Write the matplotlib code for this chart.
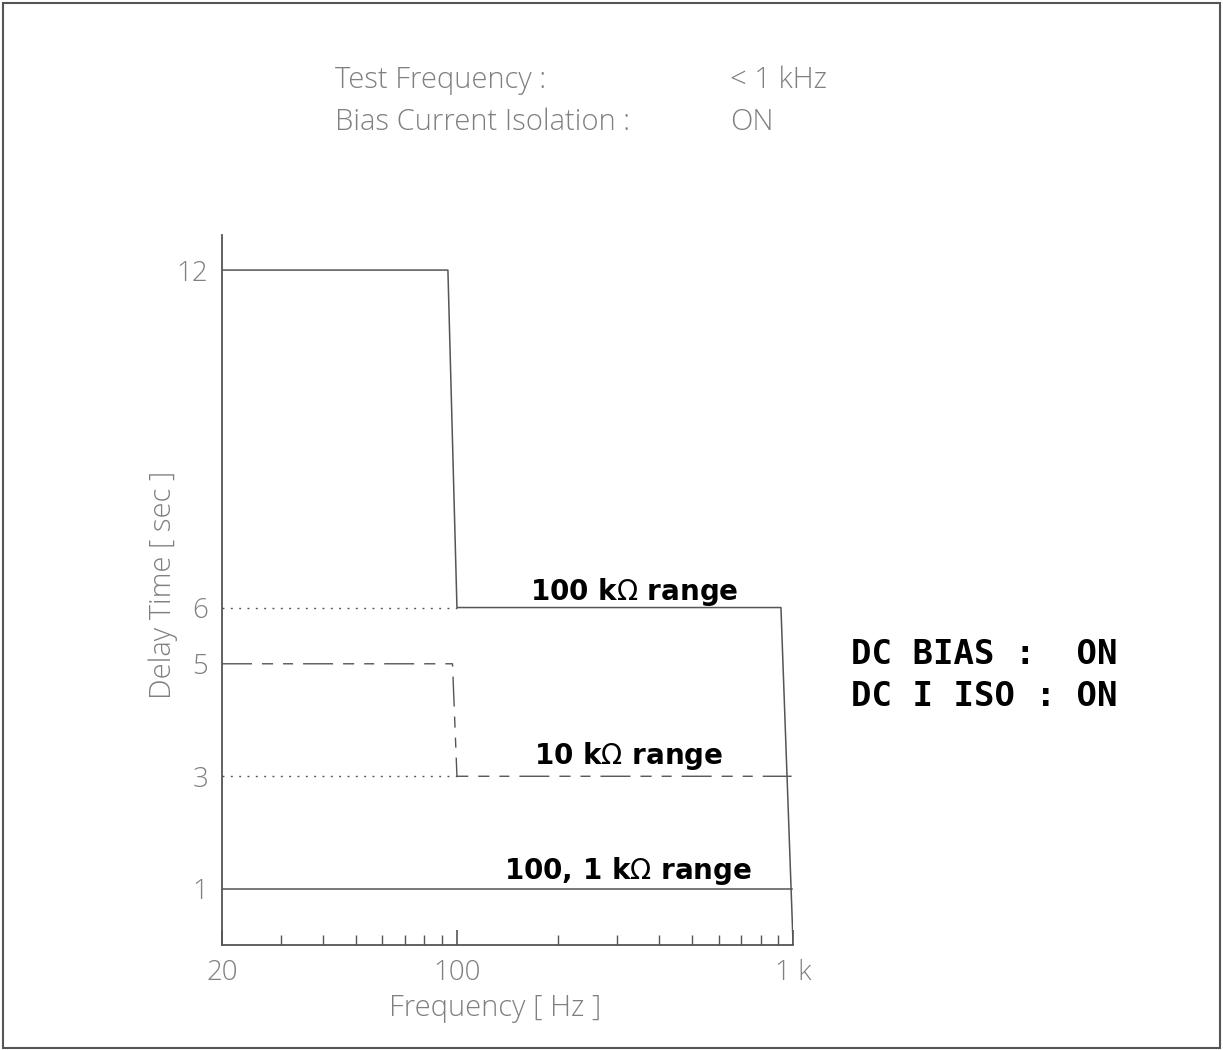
import matplotlib
matplotlib.use('Agg')
import numpy as np
from matplotlib import pyplot as plt
from matplotlib.patches import Rectangle
from matplotlib.ticker import FixedLocator, NullFormatter

# 100 kOhm range
freq_100k = [20, 94, 100, 920, 1000]
delay_100k = [12, 12, 6, 6, 0]
# 10 kOhm range
freq_10k = [20, 97, 100, 990]
delay_10k = [5, 5, 3, 3]
# 100, 1 kOhm range
freq_1k = [20, 990]
delay_1k = [1, 1]
# dotted guides
guide_freq = [20, 100]
guide_levels = [6, 3]

ytick_vals = [1, 3, 5, 6, 12]
xtick_vals = [20, 100, 1000]
xtick_labels = ['20', '100', '1 k']
minor_vals = [30, 40, 50, 60, 70, 80, 90, 200, 300, 400, 500, 600, 700, 800, 900]

line_col = '#555555'
thin_col = '#808080'
thin_font = dict(family='Open Sans', fontweight='light', color=thin_col)

fig = plt.figure(figsize=(12.23, 10.5), dpi=100)
ax = fig.add_axes([0.1815, 0.1, 0.467, 0.676])

ax.plot(freq_100k, delay_100k, color=line_col, lw=1.1)
ax.plot(freq_10k, delay_10k, color=line_col, lw=1.0, dashes=(21.6, 7.2, 8, 7.2, 7.2, 7.2))
ax.plot(freq_1k, delay_1k, color=line_col, lw=1.1)
for lvl in guide_levels:
    ax.plot(guide_freq, [lvl, lvl], color=line_col, lw=1.0, dashes=(1.4, 4.6))

ax.set_xscale('log')
ax.set_xlim(20, 1000)
ax.set_ylim(0, 12.62)

for s in ['top', 'right']:
    ax.spines[s].set_visible(False)
for s in ['left', 'bottom']:
    ax.spines[s].set_color(line_col)
    ax.spines[s].set_linewidth(1.3)

ax.set_xticks(xtick_vals)
ax.set_xticklabels(xtick_labels, **thin_font, fontsize=20)
ax.xaxis.set_minor_locator(FixedLocator(minor_vals))
ax.xaxis.set_minor_formatter(NullFormatter())
ax.tick_params(axis='x', which='major', direction='in', length=11, width=1.2, color=line_col, pad=10)
ax.tick_params(axis='x', which='minor', direction='in', length=7, width=1.0, color=line_col)

ax.set_yticks(ytick_vals)
ax.set_yticklabels([str(v) for v in ytick_vals], **thin_font, fontsize=20)
ax.tick_params(axis='y', length=0, pad=10)

ax.set_xlabel('Frequency [ Hz ]', **thin_font, fontsize=21)
ax.set_ylabel('Delay Time [ sec ]', **thin_font, fontsize=21)
ax.xaxis.set_label_coords(0.478, -0.068)
ax.yaxis.set_label_coords(-0.077, 0.508)

bold = dict(family='DejaVu Sans', fontweight='bold', color='black', fontsize=20,
            ha='center', va='baseline')
ax.text(336, 6.14, '100 k$\\Omega$ range', **bold)
ax.text(325, 3.21, '10 k$\\Omega$ range', **bold)
ax.text(322, 1.18, '100, 1 k$\\Omega$ range', **bold)

mono = dict(family='DejaVu Sans Mono', fontweight='bold', color='black', fontsize=24.5,
            ha='left', va='center')
fig.text(851 / 1223, 1 - 654 / 1050, 'DC BIAS :  ON', **mono)
fig.text(851 / 1223, 1 - 697 / 1050, 'DC I ISO : ON', **mono)

fig.text(335 / 1223, 1 - 80 / 1050, 'Test Frequency :', ha='left', va='center', fontsize=21, **thin_font)
fig.text(730 / 1223, 1 - 80 / 1050, '< 1 kHz', ha='left', va='center', fontsize=21, **thin_font)
fig.text(335 / 1223, 1 - 122 / 1050, 'Bias Current Isolation :', ha='left', va='center', fontsize=21, **thin_font)
fig.text(730 / 1223, 1 - 122 / 1050, 'ON', ha='left', va='center', fontsize=21, **thin_font)

fig.patches.append(Rectangle((3 / 1223, 2 / 1050), 1217 / 1223, 1045 / 1050,
                             transform=fig.transFigure, fill=False,
                             edgecolor=line_col, lw=1.5))

fig.savefig('out.png', dpi=100)
